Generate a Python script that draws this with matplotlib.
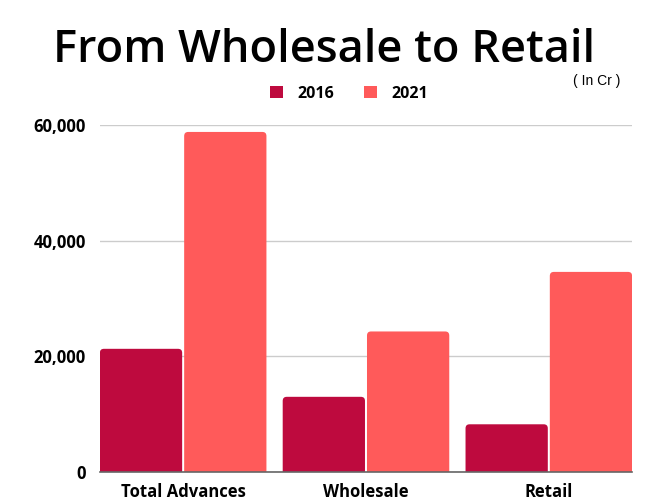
import numpy as np
import matplotlib
matplotlib.use("Agg")
import matplotlib.pyplot as plt
from matplotlib.patches import FancyBboxPatch, Patch

# data (in Cr)
categories = ["Total Advances", "Wholesale", "Retail"]
years = ["2016", "2021"]
values_2016 = [21300, 13000, 8250]
values_2021 = [58800, 24300, 34600]
colors = ["#BE0A3E", "#FF5A5A"]
y_ticks = [0, 20000, 40000, 60000]

fig = plt.figure(figsize=(6.5, 5), dpi=100)
ax = fig.add_axes([0.1538, 0.056, 0.8185, 0.694])

x = np.arange(len(categories))
w = 0.45
gap = 0.011

bars1 = ax.bar(x - w / 2 - gap / 2, values_2016, w, color=colors[0])
bars2 = ax.bar(x + w / 2 + gap / 2, values_2021, w, color=colors[1])

# rounded top corners
rx = 0.022
ry = 700
for bars in (bars1, bars2):
    for b in bars:
        rb = FancyBboxPatch((b.get_x(), -ry), b.get_width(), b.get_height() + ry,
                            boxstyle=f"round,pad=0,rounding_size={rx}",
                            mutation_aspect=ry / rx,
                            facecolor=b.get_facecolor(), edgecolor="none",
                            zorder=2)
        ax.add_patch(rb)
        b.set_visible(False)

ax.set_xlim(-0.455, 2.455)
ax.set_ylim(0, 60000)
ax.set_yticks(y_ticks)
ax.set_yticklabels([f"{v:,}" for v in y_ticks])
ax.set_xticks(x)
ax.set_xticklabels(categories)
ax.tick_params(length=0, labelsize=12)
ax.tick_params(axis="y", pad=10)
ax.tick_params(axis="x", pad=8)
for lab in ax.get_xticklabels() + ax.get_yticklabels():
    lab.set_fontfamily("Open Sans")
    lab.set_fontweight("bold")

ax.yaxis.grid(True, color="#cccccc", linewidth=1)
ax.set_axisbelow(True)
for s in ["top", "right", "left"]:
    ax.spines[s].set_visible(False)
ax.spines["bottom"].set_color("#666666")
ax.spines["bottom"].set_linewidth(1.2)
ax.spines["bottom"].set_zorder(3)

fig.text(0.498, 0.9, "From Wholesale to Retail", ha="center", va="center",
         fontsize=32.5, fontweight="semibold", family="Open Sans")
fig.text(0.918, 0.838, "( In Cr )", ha="center", va="center", fontsize=10,
         family="Liberation Sans")

# legend
handles = [Patch(facecolor=c, edgecolor="none") for c in colors]
ax.legend(handles=handles, labels=years, loc="center",
          bbox_to_anchor=(0.537, 0.813), bbox_transform=fig.transFigure,
          ncol=2, frameon=False, handlelength=0.8, handleheight=0.8,
          columnspacing=1.9, handletextpad=0.9,
          prop={"family": "Open Sans", "weight": "bold", "size": 11.5})

fig.savefig("out.png", dpi=100)
